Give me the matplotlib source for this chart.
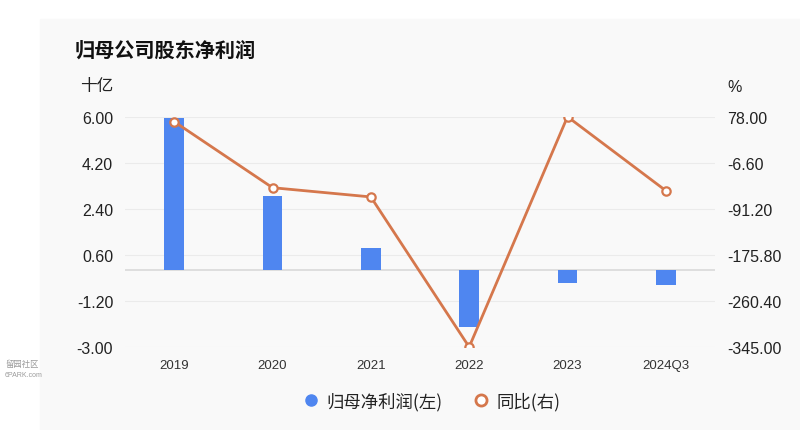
import matplotlib.pyplot as plt
from matplotlib.patches import Rectangle
from matplotlib.lines import Line2D

plt.rcParams['font.family'] = ['Liberation Sans', 'Noto Sans CJK SC', 'DejaVu Sans']
cjk = ['Noto Sans CJK SC', 'DejaVu Sans']

years = ['2019', '2020', '2021', '2022', '2023', '2024Q3']
profit = [5.97, 2.90, 0.88, -2.20, -0.50, -0.58]      # 十亿
yoy = [69.5, -52.0, -69.0, -345.0, 78.5, -57.5]        # %

left_ticks = [-3.00, -1.20, 0.60, 2.40, 4.20, 6.00]
right_ticks = [-345.00, -260.40, -175.80, -91.20, -6.60, 78.00]

bar_color = '#4f86f0'
line_color = '#d5774c'

fig = plt.figure(figsize=(8, 4.31), dpi=100)
fig.patch.set_facecolor('white')
fig.add_artist(Rectangle((40 / 800, 0), 760 / 800, 1 - 20 / 431,
                         transform=fig.transFigure, color='#f9f9f9', zorder=-5))

ax = fig.add_axes([125 / 800, 1 - 348 / 431, 590 / 800, 230 / 431])
ax.patch.set_alpha(0)
x = list(range(len(years)))
ax.bar(x, profit, width=0.2, color=bar_color, zorder=3)
ax.set_xlim(-0.5, len(years) - 0.5)
ax.set_ylim(-3, 6)
ax.set_yticks(left_ticks)
ax.set_yticklabels([f'{v:.2f}' for v in left_ticks], fontsize=11.5, color='#222222')
ax.set_xticks(x)
ax.set_xticklabels(years, fontsize=9.5, color='#333333')
ax.tick_params(length=0, pad=8.5)
ax.tick_params(axis='x', pad=9)
for s in ax.spines.values():
    s.set_visible(False)
for t in left_ticks:
    ax.axhline(t, color='#ebebeb', lw=0.8, zorder=1)
ax.axhline(0, color='#d9d9d9', lw=1.2, zorder=2)

ax2 = ax.twinx()
ax2.plot(x, yoy, color=line_color, lw=2, marker='o', markersize=6,
         markerfacecolor='white', markeredgecolor=line_color, markeredgewidth=1.6, zorder=4)
ax2.set_ylim(-345, 78)
ax2.set_yticks(right_ticks)
ax2.set_yticklabels([f'{v:.2f}' for v in right_ticks], fontsize=11.5, color='#222222')
ax2.tick_params(length=0, pad=8.5)
for s in ax2.spines.values():
    s.set_visible(False)

fig.text(75 / 800, 1 - 50 / 431, '归母公司股东净利润', fontsize=14.5, fontweight='bold',
         color='#111111', va='center', family=cjk)
fig.text(80 / 800, 1 - 87 / 431, '十亿', fontsize=12, color='#222222', va='center', family=cjk)
fig.text(727 / 800, 1 - 87 / 431, '%', fontsize=11.5, color='#222222', va='center')

handles = [Line2D([], [], marker='o', ls='', markersize=8, color=bar_color),
           Line2D([], [], marker='o', ls='', markersize=8, markerfacecolor='white',
                  markeredgecolor=line_color, markeredgewidth=2)]
fig.legend(handles, ['归母净利润(左)', '同比(右)'], loc='center', ncol=2,
           bbox_to_anchor=(432 / 800, 1 - 402 / 431), frameon=False,
           prop={'family': cjk, 'size': 12.5}, handlelength=0.8,
           handletextpad=0.5, columnspacing=1.8, labelcolor='#222222')

fig.text(5 / 800, 1 - 365 / 431, '留园社区', fontsize=6, color='#9a9a9a', va='center', family=cjk)
fig.text(5 / 800, 1 - 376 / 431, '6PARK.com', fontsize=5, color='#9a9a9a', va='center')

fig.savefig('out.png', dpi=100)
